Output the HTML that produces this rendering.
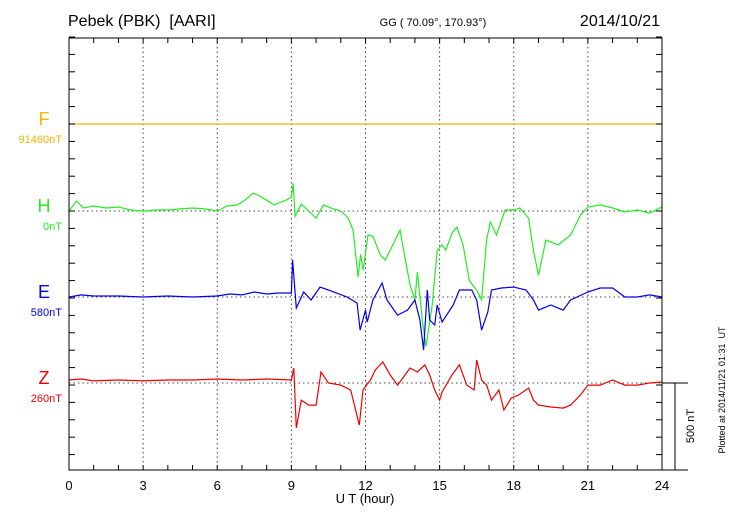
<!DOCTYPE html>
<html><head><meta charset="utf-8"><style>
body{margin:0;background:#fff}
svg{display:block;font-family:"Liberation Sans",sans-serif}
text{white-space:pre}
</style></head><body>
<svg id="chart" width="730" height="520" viewBox="0 0 730 520" xmlns="http://www.w3.org/2000/svg" xml:space="preserve">
<text x="68" y="26" font-size="16">Pebek (PBK)  [AARI]</text>
<text x="433" y="26" font-size="11" text-anchor="middle">GG ( 70.09°, 170.93°)</text>
<text x="660" y="26" font-size="16" text-anchor="end">2014/10/21</text>
<g id="grid"></g>
<g id="series"></g>
<rect x="69" y="38" width="593" height="432" fill="none" stroke="#000" stroke-width="1"/>
<g id="ticks"></g>
<text x="365" y="503" font-size="13" text-anchor="middle">U T (hour)</text>
<g>
<line x1="662" y1="383" x2="688" y2="383" stroke="#000"/>
<line x1="662" y1="470" x2="688" y2="470" stroke="#000"/>
<line x1="675" y1="383" x2="675" y2="470" stroke="#000"/>
<text x="694" y="426" font-size="11" transform="rotate(-90 694 426)" text-anchor="middle">500 nT</text>
</g>
<text x="725" y="390" font-size="9" transform="rotate(-90 725 390)" text-anchor="middle">Plotted at 2014/11/21 01:31  UT</text>
</svg>
<script>
const xTicks=[0,3,6,9,12,15,18,21,24];
const comps=["F","H","E","Z"];
const baseLabels=["91460nT","0nT","580nT","260nT"];
const colors=["#f5b400","#22ee22","#0000ee","#ee0000"];
const fHours=[0,24];
const fVals=[0,0];
const hHours=[0,0.3,0.6,1,1.5,2,2.5,3,3.5,4,4.5,5,5.5,6,6.4,6.8,7.1,7.45,7.8,8.3,8.8,9.0,9.07,9.15,9.4,9.7,10.0,10.3,10.7,11,11.3,11.5,11.7,11.8,11.9,12.1,12.3,12.6,12.8,13.2,13.4,13.6,13.8,14.0,14.1,14.3,14.45,14.7,14.9,15.1,15.25,15.5,15.7,15.95,16.2,16.5,16.7,16.9,17.05,17.3,17.65,18.05,18.25,18.6,18.8,19.0,19.3,19.8,20.3,20.7,21,21.5,22,22.5,23,23.5,24];
const hVals=[0,57,17,29,17,23,6,0,6,6,12,17,12,0,29,35,60,103,80,35,63,80,160,-30,40,0,-40,35,12,0,-40,-110,-380,-250,-340,-138,-145,-253,-282,-167,-110,-270,-425,-510,-350,-626,-780,-540,-225,-195,-225,-127,-92,-195,-400,-455,-510,-167,-63,-138,6,6,17,-40,-230,-370,-167,-195,-138,-23,23,35,17,-6,6,-12,23];
const eHours=[0,0.5,1,2,3,4,5,6,6.5,7,7.5,8,8.5,9.0,9.05,9.2,9.5,9.8,10.16,10.5,11.25,11.66,11.78,12,12.07,12.3,12.67,12.87,13.3,13.7,14.0,14.2,14.35,14.5,14.6,14.8,14.9,15.1,15.55,15.8,16.3,16.5,16.7,16.95,17.1,17.5,18,18.5,18.8,19.0,19.5,20,20.3,21,21.5,22,22.5,23,23.5,24];
const eVals=[0,12,6,6,0,6,0,6,17,12,29,17,23,23,213,-63,29,-17,57,40,0,-35,-190,-75,-144,-17,81,-17,-104,-75,-17,-132,-305,40,-132,-161,-46,-144,-46,40,40,-17,-190,-86,40,52,57,40,-17,-75,-46,-75,-17,29,52,52,0,0,12,0];
const zHours=[0,0.5,1,2,3,4,5,6,7,8,9,9.1,9.2,9.4,9.7,10,10.2,10.5,11,11.4,11.75,11.9,12.2,12.4,12.7,13,13.3,13.6,13.8,14.1,14.4,14.6,14.8,15.0,15.1,15.5,15.8,16.1,16.4,16.5,16.7,16.9,17.1,17.4,17.6,17.9,18.2,18.6,18.8,19,19.5,20,20.3,20.7,21,21.5,22,22.5,23,23.5,24];
const zVals=[17,23,12,17,12,17,17,23,17,23,17,86,-258,-98,-127,-127,63,0,-12,-40,-242,-40,17,75,121,46,-12,46,86,63,104,46,-40,-98,-52,46,104,-12,-40,132,17,-12,-98,-40,-155,-86,-69,-29,-98,-127,-138,-144,-127,-69,-12,-12,17,-12,-12,0,6];
const baselines=[124,211,297,383];
const X0=69,X1=662,Y0=38,Y1=470,PXNT=87/500;
const xs=h=>X0+(X1-X0)*h/24;
const ys=(i,v)=>baselines[i]-v*PXNT;
const NS="http://www.w3.org/2000/svg";
function mk(t,a,p){const e=document.createElementNS(NS,t);for(const k in a)e.setAttribute(k,a[k]);p.appendChild(e);return e;}
const grid=document.getElementById('grid'),ser=document.getElementById('series'),tk=document.getElementById('ticks');
xTicks.forEach(h=>{if(h>0&&h<24){const l=mk('line',{x1:xs(h),x2:xs(h),y1:Y0,y2:Y1,stroke:'#444','stroke-dasharray':'1.5,3','stroke-width':1},grid);

}
const t=mk('text',{x:xs(h),y:490,'font-size':13,'text-anchor':'middle'},tk);t.textContent=h;

});
for(let h=0;h<=24;h++){mk('line',{x1:xs(h),x2:xs(h),y1:Y0,y2:Y0+5,stroke:'#000'},tk);mk('line',{x1:xs(h),x2:xs(h),y1:Y1,y2:Y1-5,stroke:'#000'},tk);}
for(let k=0;k<=25;k++){const y=124+(k-5)*PXNT*100;if(y<Y0-1||y>Y1+1)continue;mk('line',{x1:X0,x2:X0+6,y1:y,y2:y,stroke:'#000'},tk);mk('line',{x1:X1,x2:X1-6,y1:y,y2:y,stroke:'#000'},tk);}
const H=[fHours,hHours,eHours,zHours],V=[fVals,hVals,eVals,zVals];
comps.forEach((c,i)=>{
const g=mk('line',{x1:X0,x2:X1,y1:baselines[i],y2:baselines[i],stroke:'#444','stroke-dasharray':'1.5,3'},grid);


const pts=H[i].map((h,j)=>xs(h).toFixed(1)+','+ys(i,V[i][j]).toFixed(1)).join(' ');
const p=mk('polyline',{points:pts,fill:'none',stroke:colors[i],'stroke-width':1.2},ser);


const t=mk('text',{x:44,y:baselines[i]+1,'font-size':18,fill:colors[i],'text-anchor':'middle'},tk);t.textContent=c;


const b=mk('text',{x:62,y:baselines[i]+19,'font-size':11,fill:colors[i],'text-anchor':'end'},tk);b.textContent=baseLabels[i];


});
</script>
</body></html>
